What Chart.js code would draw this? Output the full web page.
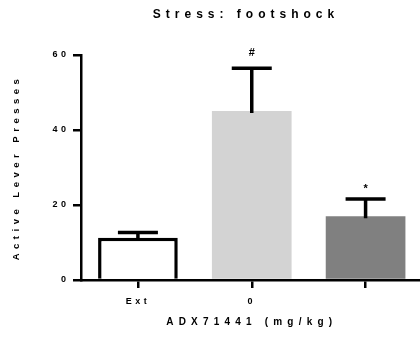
<!DOCTYPE html>
<html>
<head>
<meta charset="utf-8">
<script src="https://cdn.jsdelivr.net/npm/chart.js@4"></script>
<style>
    html, body { margin: 0; padding: 0; overflow: hidden; background: #fff; }
    #wrap { width: 424px; height: 345px; }
</style>
</head>
<body>
<div id="wrap"><canvas id="chart" width="424" height="345"></canvas></div>
<script>
const GROUPS = ["Ext", "0", ""];
const MEANS = [11.3, 45.1, 17.0];
const SEMS = [1.4, 11.4, 4.6];
const MARKS = ["", "#", "*"];
const MARK_LIFT = [0, 12, 7];
const FILLS = ["#ffffff", "#d3d3d3", "#808080"];
const Y_TICKS = [0, 20, 40, 60];
const TITLE = "Stress: footshock";

const FONT = "'Liberation Sans', Arial, sans-serif";
// letter spacing per font size, the reference spreads every label out
const SPACING = {"12": 5, "10": 5.2, "9.5": 4.5, "9": 3.5};

function spaceFor(font) {
    const m = /([\d.]+)px/.exec(font);
    return (m && SPACING[m[1]]) || 0;
}

function patchSpacing(ctx) {
    const fill = ctx.fillText;
    const measure = ctx.measureText;
    ctx.fillText = function (...args) {
        this.letterSpacing = spaceFor(this.font) + "px";
        return fill.apply(this, args);
    };
    ctx.measureText = function (...args) {
        this.letterSpacing = spaceFor(this.font) + "px";
        return measure.apply(this, args);
    };
}

// upper error bars plus significance marks
const errorBars = {
    id: "errorBars",
    afterDatasetsDraw(chart) {
        const ctx = chart.ctx;
        const y = chart.scales.y;
        const meta = chart.getDatasetMeta(0);
        ctx.save();
        ctx.strokeStyle = "#000";
        ctx.fillStyle = "#000";
        ctx.lineWidth = 3.5;
        meta.data.forEach((bar, i) => {
            const yMean = y.getPixelForValue(MEANS[i]);
            const yTop = y.getPixelForValue(MEANS[i] + SEMS[i]);
            ctx.beginPath();
            ctx.moveTo(bar.x, yMean + 2);
            ctx.lineTo(bar.x, yTop);
            ctx.moveTo(bar.x - 20, yTop);
            ctx.lineTo(bar.x + 20, yTop);
            ctx.stroke();
            if (MARKS[i]) {
                ctx.font = "bold 11px " + FONT;
                ctx.textAlign = "center";
                ctx.textBaseline = "alphabetic";
                ctx.fillText(MARKS[i], bar.x, yTop - MARK_LIFT[i]);
            }
        });
        ctx.restore();
    }
};

// chart title sits a little left of the plot centre in the original
const chartTitle = {
    id: "chartTitle",
    afterDraw(chart) {
        const ctx = chart.ctx;
        ctx.save();
        ctx.fillStyle = "#000";
        ctx.font = "bold 12px " + FONT;
        ctx.textAlign = "center";
        ctx.textBaseline = "middle";
        ctx.fillText(TITLE, 246, 14.5);
        ctx.restore();
    }
};

const canvas = document.getElementById("chart");
const ctx = canvas.getContext("2d");
patchSpacing(ctx);

new Chart(ctx, {
    type: "bar",
    data: {
        labels: GROUPS,
        datasets: [{
            data: MEANS,
            backgroundColor: FILLS,
            borderColor: ["#000000", "rgba(0,0,0,0)", "rgba(0,0,0,0)"],
            borderWidth: [3.5, 0, 0],
            barPercentage: 0.7,
            categoryPercentage: 1
        }]
    },
    options: {
        responsive: false,
        animation: false,
        layout: {padding: {left: 0, right: 1.5, top: 55, bottom: 0}},
        plugins: {
            legend: {display: false},
            tooltip: {enabled: false},
            title: {display: false}
        },
        scales: {
            x: {
                afterFit: (scale) => { scale.height = 65; },
                grid: {
                    display: true,
                    drawOnChartArea: false,
                    offset: false,
                    tickLength: 8,
                    lineWidth: 2.5,
                    color: "#000"
                },
                border: {display: true, color: "#000", width: 2.5, z: 1},
                ticks: {
                    color: "#000",
                    padding: 8,
                    font: {family: FONT, size: 9, weight: "bold"}
                },
                title: {
                    display: true,
                    text: "ADX71441 (mg/kg)",
                    color: "#000",
                    font: {family: FONT, size: 10, weight: "bold"},
                    padding: {top: 0, bottom: 16.5}
                }
            },
            y: {
                min: 0,
                max: 60,
                afterFit: (scale) => { scale.width = 81; },
                afterBuildTicks: (scale) => { scale.ticks = Y_TICKS.map(v => ({value: v})); },
                grid: {
                    display: true,
                    drawOnChartArea: false,
                    tickLength: 8,
                    lineWidth: 2.5,
                    color: "#000"
                },
                border: {display: true, color: "#000", width: 2.5, z: 1},
                ticks: {
                    color: "#000",
                    padding: 3.5,
                    font: {family: FONT, size: 9, weight: "bold"}
                },
                title: {
                    display: true,
                    text: "Active Lever Presses",
                    color: "#000",
                    font: {family: FONT, size: 9.5, weight: "bold"},
                    padding: {top: 10.3, bottom: 0}
                }
            }
        }
    },
    plugins: [errorBars, chartTitle]
});
</script>
</body>
</html>
